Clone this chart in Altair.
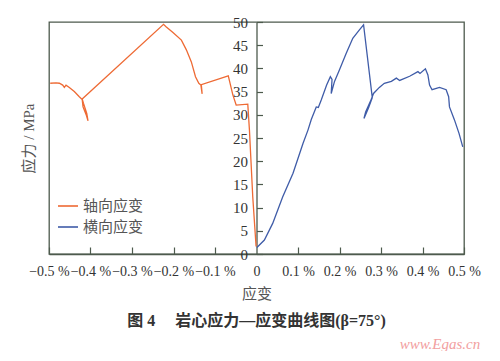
import altair as alt
import pandas as pd

# ---- data (strain in %, stress in MPa) ----
axial_strain = [-0.497, -0.483, -0.475, -0.467, -0.463, -0.459, -0.451, -0.439, -0.427, -0.420,
                -0.418, -0.410, -0.406, -0.409, -0.417, -0.420,
                -0.224, -0.218, -0.202, -0.181, -0.169, -0.157, -0.147, -0.139, -0.134,
                -0.131, -0.133, -0.068, -0.057, -0.049, -0.021, -0.017, -0.009, -0.001]
axial_stress = [36.8, 36.9, 36.8, 36.4, 35.9, 36.4, 35.9, 35.0, 33.9, 33.3,
                31.7, 29.9, 28.7, 30.3, 32.5, 33.4,
                49.5, 49.0, 47.8, 46.1, 44.0, 41.4, 38.2, 36.8, 36.4,
                34.5, 36.5, 38.4, 34.3, 32.1, 32.3, 26.7, 12.3, 1.6]

lateral_strain = [0.001, 0.019, 0.039, 0.063, 0.088, 0.112, 0.124, 0.132, 0.144, 0.149,
                  0.156, 0.169, 0.178, 0.182, 0.180, 0.188, 0.200, 0.216, 0.232, 0.248,
                  0.258, 0.279, 0.270, 0.259, 0.263, 0.275, 0.282, 0.296, 0.308, 0.325,
                  0.337, 0.345, 0.369, 0.389, 0.394, 0.407, 0.413, 0.417, 0.423, 0.441,
                  0.457, 0.463, 0.465, 0.477, 0.488, 0.497]
lateral_stress = [1.4, 3.0, 6.6, 12.3, 17.4, 23.8, 26.7, 29.0, 31.7, 31.6,
                  33.2, 36.4, 38.2, 37.6, 34.6, 37.2, 39.7, 43.2, 46.5, 48.3,
                  49.4, 33.7, 31.5, 29.2, 30.6, 33.0, 34.6, 35.9, 36.8, 37.2,
                  37.9, 37.4, 38.3, 39.3, 38.9, 39.9, 38.6, 36.4, 35.4, 35.9,
                  35.4, 33.9, 31.7, 28.9, 26.0, 23.1]

series_names = ["轴向应变", "横向应变"]
series_colors = ["#ee6a34", "#3f5ca8"]
x_ticks = [-0.5, -0.4, -0.3, -0.2, -0.1, 0, 0.1, 0.2, 0.3, 0.4, 0.5]
y_ticks = [0, 5, 10, 15, 20, 25, 30, 35, 40, 45, 50]
x_title = "应变"
y_title = "应力 / MPa"
caption = "图 4　 岩心应力—应变曲线图(β=75°)"
watermark = "www.Egas.cn"

rows = []
for i, (sx, sy) in enumerate(zip(axial_strain, axial_stress)):
    rows.append({"strain": sx, "stress": sy, "series": series_names[0], "idx": i})
for i, (sx, sy) in enumerate(zip(lateral_strain, lateral_stress)):
    rows.append({"strain": sx, "stress": sy, "series": series_names[1], "idx": i})
df = pd.DataFrame(rows)

SERIF = "Liberation Serif"
FONT = "Liberation Serif, Noto Sans CJK SC"
AX = "#4d5a4d"
TXT = "#333333"
W, H = 415, 232

xscale = alt.Scale(domain=[-0.5, 0.5], nice=False, zero=False)
yscale = alt.Scale(domain=[0, 50], nice=False)

color = alt.Color(
    "series:N",
    scale=alt.Scale(domain=series_names, range=series_colors),
    legend=alt.Legend(
        orient="none", legendX=8, legendY=173, title=None,
        symbolType="stroke", symbolSize=400, symbolStrokeWidth=1.6,
        labelFont=FONT, labelFontSize=15, labelColor="#555555",
        rowPadding=2, labelOffset=4,
    ),
)

axis_bottom = alt.Axis(
    orient="bottom", values=x_ticks, ticks=False, domain=True, grid=False,
    labelExpr="datum.value == 0 ? '0' : format(datum.value, '.1f') + ' %'",
    labelFlush=False, labelOverlap=False, labelFont=SERIF, labelFontSize=14,
    labelColor=TXT, labelPadding=10,
    title=x_title, titleFont=FONT, titleFontSize=15, titleFontWeight="normal",
    titleColor="#555555", titlePadding=8,
)
axis_top_ticks = alt.Axis(
    orient="top", offset=-H, values=[v for v in x_ticks if v != 0],
    ticks=True, tickSize=7, labels=False, domain=False, grid=False, title=None,
)
axis_left_labels = alt.Axis(
    orient="left", offset=-W / 2, values=y_ticks, ticks=False, domain=True, grid=False,
    labelFont=SERIF, labelFontSize=15, labelColor=TXT, labelPadding=9,
    labelOverlap=False,
    title=y_title, titleFont=FONT, titleFontSize=15, titleFontWeight="normal",
    titleColor="#555555", titleX=-220, titleY=H / 2,
)
axis_right_ticks = alt.Axis(
    orient="right", offset=-W / 2, values=y_ticks, ticks=True, tickSize=6,
    labels=False, domain=False, grid=False, title=None,
)

base = alt.Chart(df)

axial = base.transform_filter(alt.datum.series == series_names[0]).mark_line(
    strokeWidth=1.3
).encode(
    x=alt.X("strain:Q", scale=xscale, axis=axis_bottom),
    y=alt.Y("stress:Q", scale=yscale, axis=axis_left_labels),
    color=color,
    order="idx:Q",
)

lateral = base.transform_filter(alt.datum.series == series_names[1]).mark_line(
    strokeWidth=1.3
).encode(
    x=alt.X("strain:Q", scale=xscale, axis=axis_top_ticks),
    y=alt.Y("stress:Q", scale=yscale, axis=axis_right_ticks),
    color=color,
    order="idx:Q",
)

wm = alt.Chart(pd.DataFrame({"t": [watermark]})).mark_text(
    font=SERIF, fontSize=15, fontStyle="italic", color="#f2a0a0",
    align="center", baseline="middle",
).encode(text="t:N", x=alt.value(391), y=alt.value(322))

chart = alt.layer(axial, lateral, wm).resolve_axis(
    x="independent", y="independent"
).properties(
    width=W, height=H,
    padding={"left": 41, "top": 14, "right": 28, "bottom": 97},
    autosize=alt.AutoSizeParams(type="none"),
    title=alt.TitleParams(
        text=caption, orient="bottom", anchor="middle", font=FONT, fontSize=16,
        fontWeight="bold", color=TXT, offset=-39,
    ),
).configure_view(
    stroke=AX, strokeWidth=1.3
).configure_axis(
    domainColor=AX, tickColor=AX, domainWidth=1.3, tickWidth=1.2
)

chart.save("out.html", embed_options={"renderer": "svg", "actions": False})
